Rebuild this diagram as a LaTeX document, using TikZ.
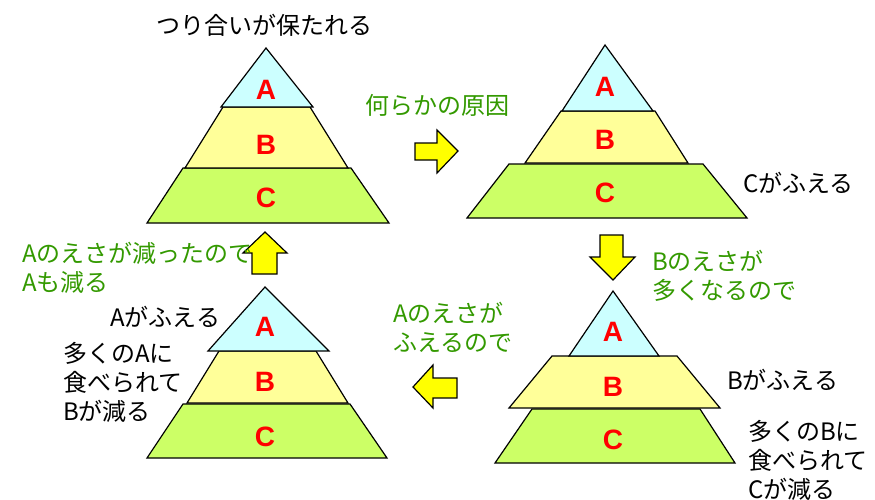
\documentclass[tikz,border=0pt]{standalone}
\usepackage{fontspec}
\setmainfont{Noto Sans CJK JP}
\newfontfamily\labfont{Liberation Sans}
\definecolor{layA}{HTML}{CCFFFF}
\definecolor{layB}{HTML}{FFFF99}
\definecolor{layC}{HTML}{CCFF66}
\definecolor{txtgreen}{HTML}{339900}
\definecolor{arrowyellow}{HTML}{FFFF00}
\tikzset{
  layer/.style={draw=black, line width=1.2pt, line join=miter},
  lab/.style={text=red, font=\labfont\bfseries\fontsize{28}{28}\selectfont, inner sep=0pt},
  jtxt/.style={font=\fontsize{24}{29}\selectfont, inner sep=0pt, align=left, anchor=west},
  gtxt/.style={jtxt, text=txtgreen},
  blockarrow/.style={draw=black, fill=arrowyellow, line width=1.2pt, line join=miter}
}
\begin{document}
\begin{tikzpicture}[x=1pt,y=-1pt]
\useasboundingbox (0,0) rectangle (875,500);
% ---------- Pyramid 1 (top left) ----------
\filldraw[layer, fill=layC] (183,168) -- (351,168) -- (389,223) -- (147,223) -- cycle;
\filldraw[layer, fill=layB] (223,107) -- (310,107) -- (348,168) -- (185,168) -- cycle;
\filldraw[layer, fill=layA] (266,48) -- (313,107) -- (221,107) -- cycle;
\node[lab] (p1a) at (266,90) {A};
\node[lab] (p1b) at (266,145) {B};
\node[lab] (p1c) at (266,198) {C};
\node[jtxt, anchor=center] (t1) at (264,25) {つり合いが保たれる};
% ---------- Pyramid 2 (top right) ----------
\filldraw[layer, fill=layC] (509,164) -- (703,164) -- (747,218) -- (467,218) -- cycle;
\filldraw[layer, fill=layB] (561,111) -- (655,111) -- (688,163) -- (525,163) -- cycle;
\filldraw[layer, fill=layA] (605,45) -- (653,111) -- (562,111) -- cycle;
\node[lab] (p2a) at (605,87) {A};
\node[lab] (p2b) at (605,140) {B};
\node[lab] (p2c) at (605,193) {C};
\node[jtxt] (t2) at (743,183) {Cがふえる};
% ---------- Pyramid 3 (bottom right) ----------
\filldraw[layer, fill=layC] (532,409) -- (700,409) -- (735,463) -- (495,463) -- cycle;
\filldraw[layer, fill=layB] (552,356) -- (677,356) -- (720,408) -- (509,408) -- cycle;
\filldraw[layer, fill=layA] (613,291) -- (659,356) -- (569,356) -- cycle;
\node[lab] (p3a) at (613,332) {A};
\node[lab] (p3b) at (613,387) {B};
\node[lab] (p3c) at (613,440) {C};
\node[jtxt] (t3a) at (727,380) {Bがふえる};
\node[jtxt] (t3b) at (748,460) {多くのBに\\食べられて\\Cが減る};
% ---------- Pyramid 4 (bottom left) ----------
\filldraw[layer, fill=layC] (183,404) -- (350,404) -- (387,458) -- (147,458) -- cycle;
\filldraw[layer, fill=layB] (219,351) -- (316,351) -- (348,403) -- (187,403) -- cycle;
\filldraw[layer, fill=layA] (265,287) -- (329,351) -- (208,351) -- cycle;
\node[lab] (p4a) at (265,327) {A};
\node[lab] (p4b) at (265,382) {B};
\node[lab] (p4c) at (265,437) {C};
\node[jtxt] (t4a) at (110,317) {Aがふえる};
\node[jtxt] (t4b) at (63,382) {多くのAに\\食べられて\\Bが減る};
% ---------- Arrows and reasons ----------
\filldraw[blockarrow] (415,143) -- (437,143) -- (437,130) -- (458,151) -- (437,173) -- (437,160) -- (415,160) -- cycle;
\node[gtxt] (r1) at (365,105) {何らかの原因};
\filldraw[blockarrow] (600,235) -- (623,235) -- (623,257) -- (635,257) -- (613,280) -- (590,257) -- (600,257) -- cycle;
\node[gtxt] (r2) at (652,276) {Bのえさが\\多くなるので};
\filldraw[blockarrow] (457,378) -- (433,378) -- (433,365) -- (413,387) -- (433,408) -- (433,398) -- (457,398) -- cycle;
\node[gtxt] (r3) at (393,327) {Aのえさが\\ふえるので};
\filldraw[blockarrow] (252,274) -- (252,253) -- (243,253) -- (265,232) -- (287,253) -- (277,253) -- (277,274) -- cycle;
\node[gtxt] (r4) at (22,268) {Aのえさが減ったので\\Aも減る};
\end{tikzpicture}
\end{document}
